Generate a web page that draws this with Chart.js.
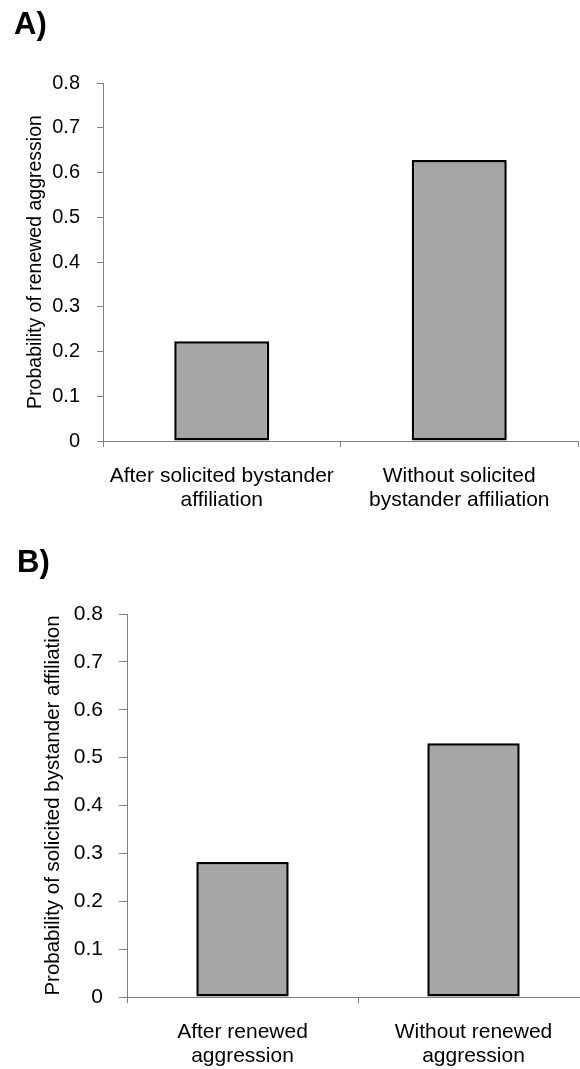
<!DOCTYPE html>
<html>
<head>
<meta charset="utf-8">
<script src="https://cdn.jsdelivr.net/npm/chart.js@4.4.1/dist/chart.umd.min.js"></script>
<style>
  html, body { margin: 0; padding: 0; background: #fff; overflow: hidden; width: 580px; height: 1069px; }
  .panel { position: absolute; left: 0; }
  .tag { position: absolute; font: bold 31px "Liberation Sans", Arial, sans-serif; line-height: 31px; color: #000; }
</style>
</head>
<body>
<canvas id="chartA" class="panel" style="top:0" width="580" height="525"></canvas>
<canvas id="chartB" class="panel" style="top:525px" width="600" height="544"></canvas>
<div class="tag" style="left:14px;top:8px">A)</div>
<div class="tag" style="left:17px;top:546px">B)</div>
<script>
// panel A
var labelsA = [['After solicited bystander', 'affiliation'], ['Without solicited', 'bystander affiliation']];
var valuesA = [0.223, 0.628];
var titleA = 'Probability of renewed aggression';

// panel B
var labelsB = [['After renewed', 'aggression'], ['Without renewed', 'aggression']];
var valuesB = [0.282, 0.530];
var titleB = 'Probability of solicited bystander affiliation';

var yTickLabels = ['0', '0.1', '0.2', '0.3', '0.4', '0.5', '0.6', '0.7', '0.8'];

var FONT = '"Liberation Sans", Arial, sans-serif';
var AXIS = '#808080';

function makeChart(id, labels, values, title, s) {
  var ctx = document.getElementById(id).getContext('2d');
  return new Chart(ctx, {
    type: 'bar',
    data: {
      labels: labels,
      datasets: [{
        data: values,
        backgroundColor: '#a6a6a6',
        borderColor: '#000',
        borderWidth: 2.5,
        borderSkipped: false,
        barPercentage: 0.4,
        categoryPercentage: 1
      }]
    },
    options: {
      responsive: false,
      animation: false,
      devicePixelRatio: 1,
      layout: { padding: { top: s.top, right: s.right, left: 0, bottom: 0 } },
      plugins: { legend: { display: false }, tooltip: { enabled: false } },
      scales: {
        x: {
          grid: { display: true, offset: true, drawOnChartArea: false, tickLength: 6, color: AXIS },
          border: { display: true, color: AXIS, width: 1 },
          ticks: {
            color: '#000', padding: s.xPad, maxRotation: 0, autoSkip: false,
            font: { family: FONT, size: s.xFont, lineHeight: 1.15 }
          },
          afterFit: function (sc) { sc.height = s.xHeight; }
        },
        y: {
          min: 0, max: 0.8,
          grid: { display: true, drawOnChartArea: false, tickLength: s.yTick, color: AXIS },
          border: { display: true, color: AXIS, width: 1 },
          ticks: {
            stepSize: 0.1, color: '#000', padding: s.yPad,
            font: { family: FONT, size: s.yFont },
            callback: function (v, i) { return yTickLabels[i]; }
          },
          title: {
            display: true, text: title, color: '#000',
            font: { family: FONT, size: s.tFont, lineHeight: 1.2 },
            padding: { top: s.tPad, bottom: 0 }
          },
          afterFit: function (sc) { sc.width = s.yWidth; }
        }
      }
    }
  });
}

makeChart('chartA', labelsA, valuesA, titleA, {
  top: 83, right: 2, xHeight: 84, xPad: 17, xFont: 21,
  yWidth: 103, yTick: 6, yPad: 17, yFont: 20, tFont: 19.5, tPad: 24
});
makeChart('chartB', labelsB, valuesB, titleB, {
  top: 89, right: 11, xHeight: 72, xPad: 17, xFont: 21,
  yWidth: 127, yTick: 8, yPad: 16, yFont: 21, tFont: 20.5, tPad: 41
});
</script>
</body>
</html>
